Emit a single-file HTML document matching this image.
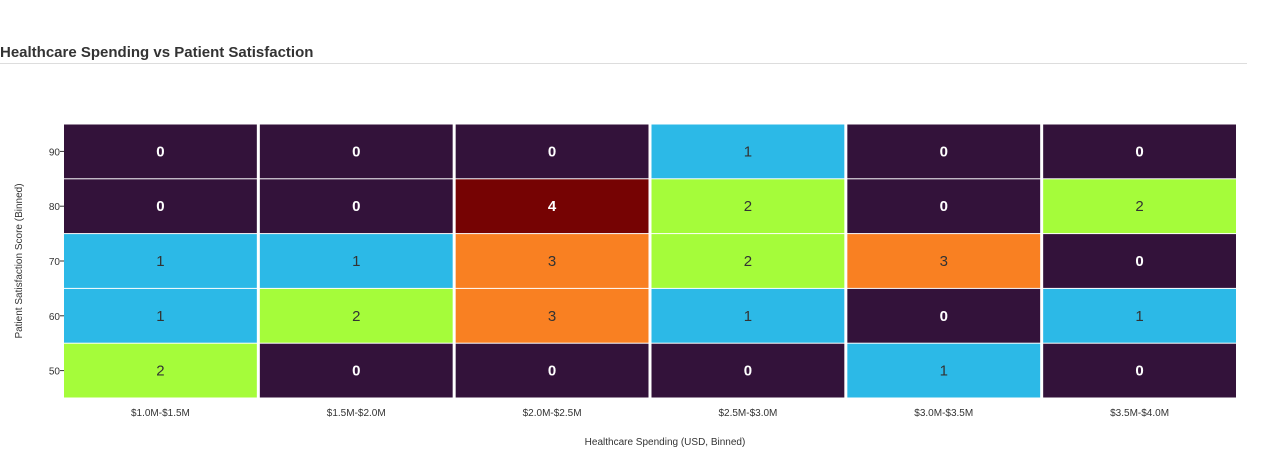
<!DOCTYPE html>
<html><head><meta charset="utf-8"><style>
body{margin:0;background:#fff;width:1280px;height:454px;overflow:hidden;font-family:"Liberation Sans",sans-serif}
#title{position:absolute;left:0;top:44px;font-size:15px;font-weight:bold;color:#333}
#rule{position:absolute;left:0;top:63px;width:1247px;height:1px;background:#ddd}
</style></head><body>
<div id="title">Healthcare Spending vs Patient Satisfaction</div>
<div id="rule"></div>
<svg id="chart" width="1280" height="454" style="position:absolute;left:0;top:0"></svg>
<script>
const xCategories=["$1.0M-$1.5M","$1.5M-$2.0M","$2.0M-$2.5M","$2.5M-$3.0M","$3.0M-$3.5M","$3.5M-$4.0M"];
const yCategories=["90","80","70","60","50"];
const counts=[
[0,0,0,1,0,0],
[0,0,4,2,0,2],
[1,1,3,2,3,0],
[1,2,3,1,0,1],
[2,0,0,0,1,0]];
const colors=["#33123a","#2cb9e7","#a5fc3a","#f98022","#760303"];
const svg=document.getElementById('chart');
const NS="http://www.w3.org/2000/svg";
const x0=64,x1=1239,y0=124,y1=398;
const cw=(x1-x0)/xCategories.length, ch=(y1-y0)/yCategories.length;
const xPos=i=>x0+i*cw, yPos=j=>y0+j*ch;
function mk(t,a){const e=document.createElementNS(NS,t);for(const k in a)e.setAttribute(k,a[k]);svg.appendChild(e);return e;}
counts.forEach((row,j)=>row.forEach((v,i)=>{
 const r=mk('rect',{x:xPos(i),y:yPos(j)+0.5,width:cw-3,height:ch-1,fill:colors[v]});
 
 
 const t=mk('text',{x:xPos(i)+(cw-3)/2,y:yPos(j)+ch/2+5,'text-anchor':'middle','font-size':'15','font-weight':(v===0||v===4)?'bold':'normal',fill:(v===0||v===4)?'#fff':'#333'});
 t.textContent=v;
 
 
}));
yCategories.forEach((c,j)=>{
 const t=mk('text',{x:60,y:yPos(j)+ch/2+4,'text-anchor':'end','font-size':'10',fill:'#333'});
 t.textContent=c;
 
 
 mk('line',{x1:60,x2:64,y1:yPos(j)+ch/2,y2:yPos(j)+ch/2,stroke:'#333'});
});
xCategories.forEach((c,i)=>{
 const t=mk('text',{x:xPos(i)+(cw-3)/2,y:416,'text-anchor':'middle','font-size':'10',fill:'#333'});
 t.textContent=c;
 
 
});
const xt=mk('text',{x:665,y:445,'text-anchor':'middle','font-size':'10',fill:'#333'});
xt.textContent="Healthcare Spending (USD, Binned)";


const yt=mk('text',{x:0,y:0,'text-anchor':'middle','font-size':'10',fill:'#333',transform:'translate(22,261) rotate(-90)'});
yt.textContent="Patient Satisfaction Score (Binned)";


</script>
</body></html>
